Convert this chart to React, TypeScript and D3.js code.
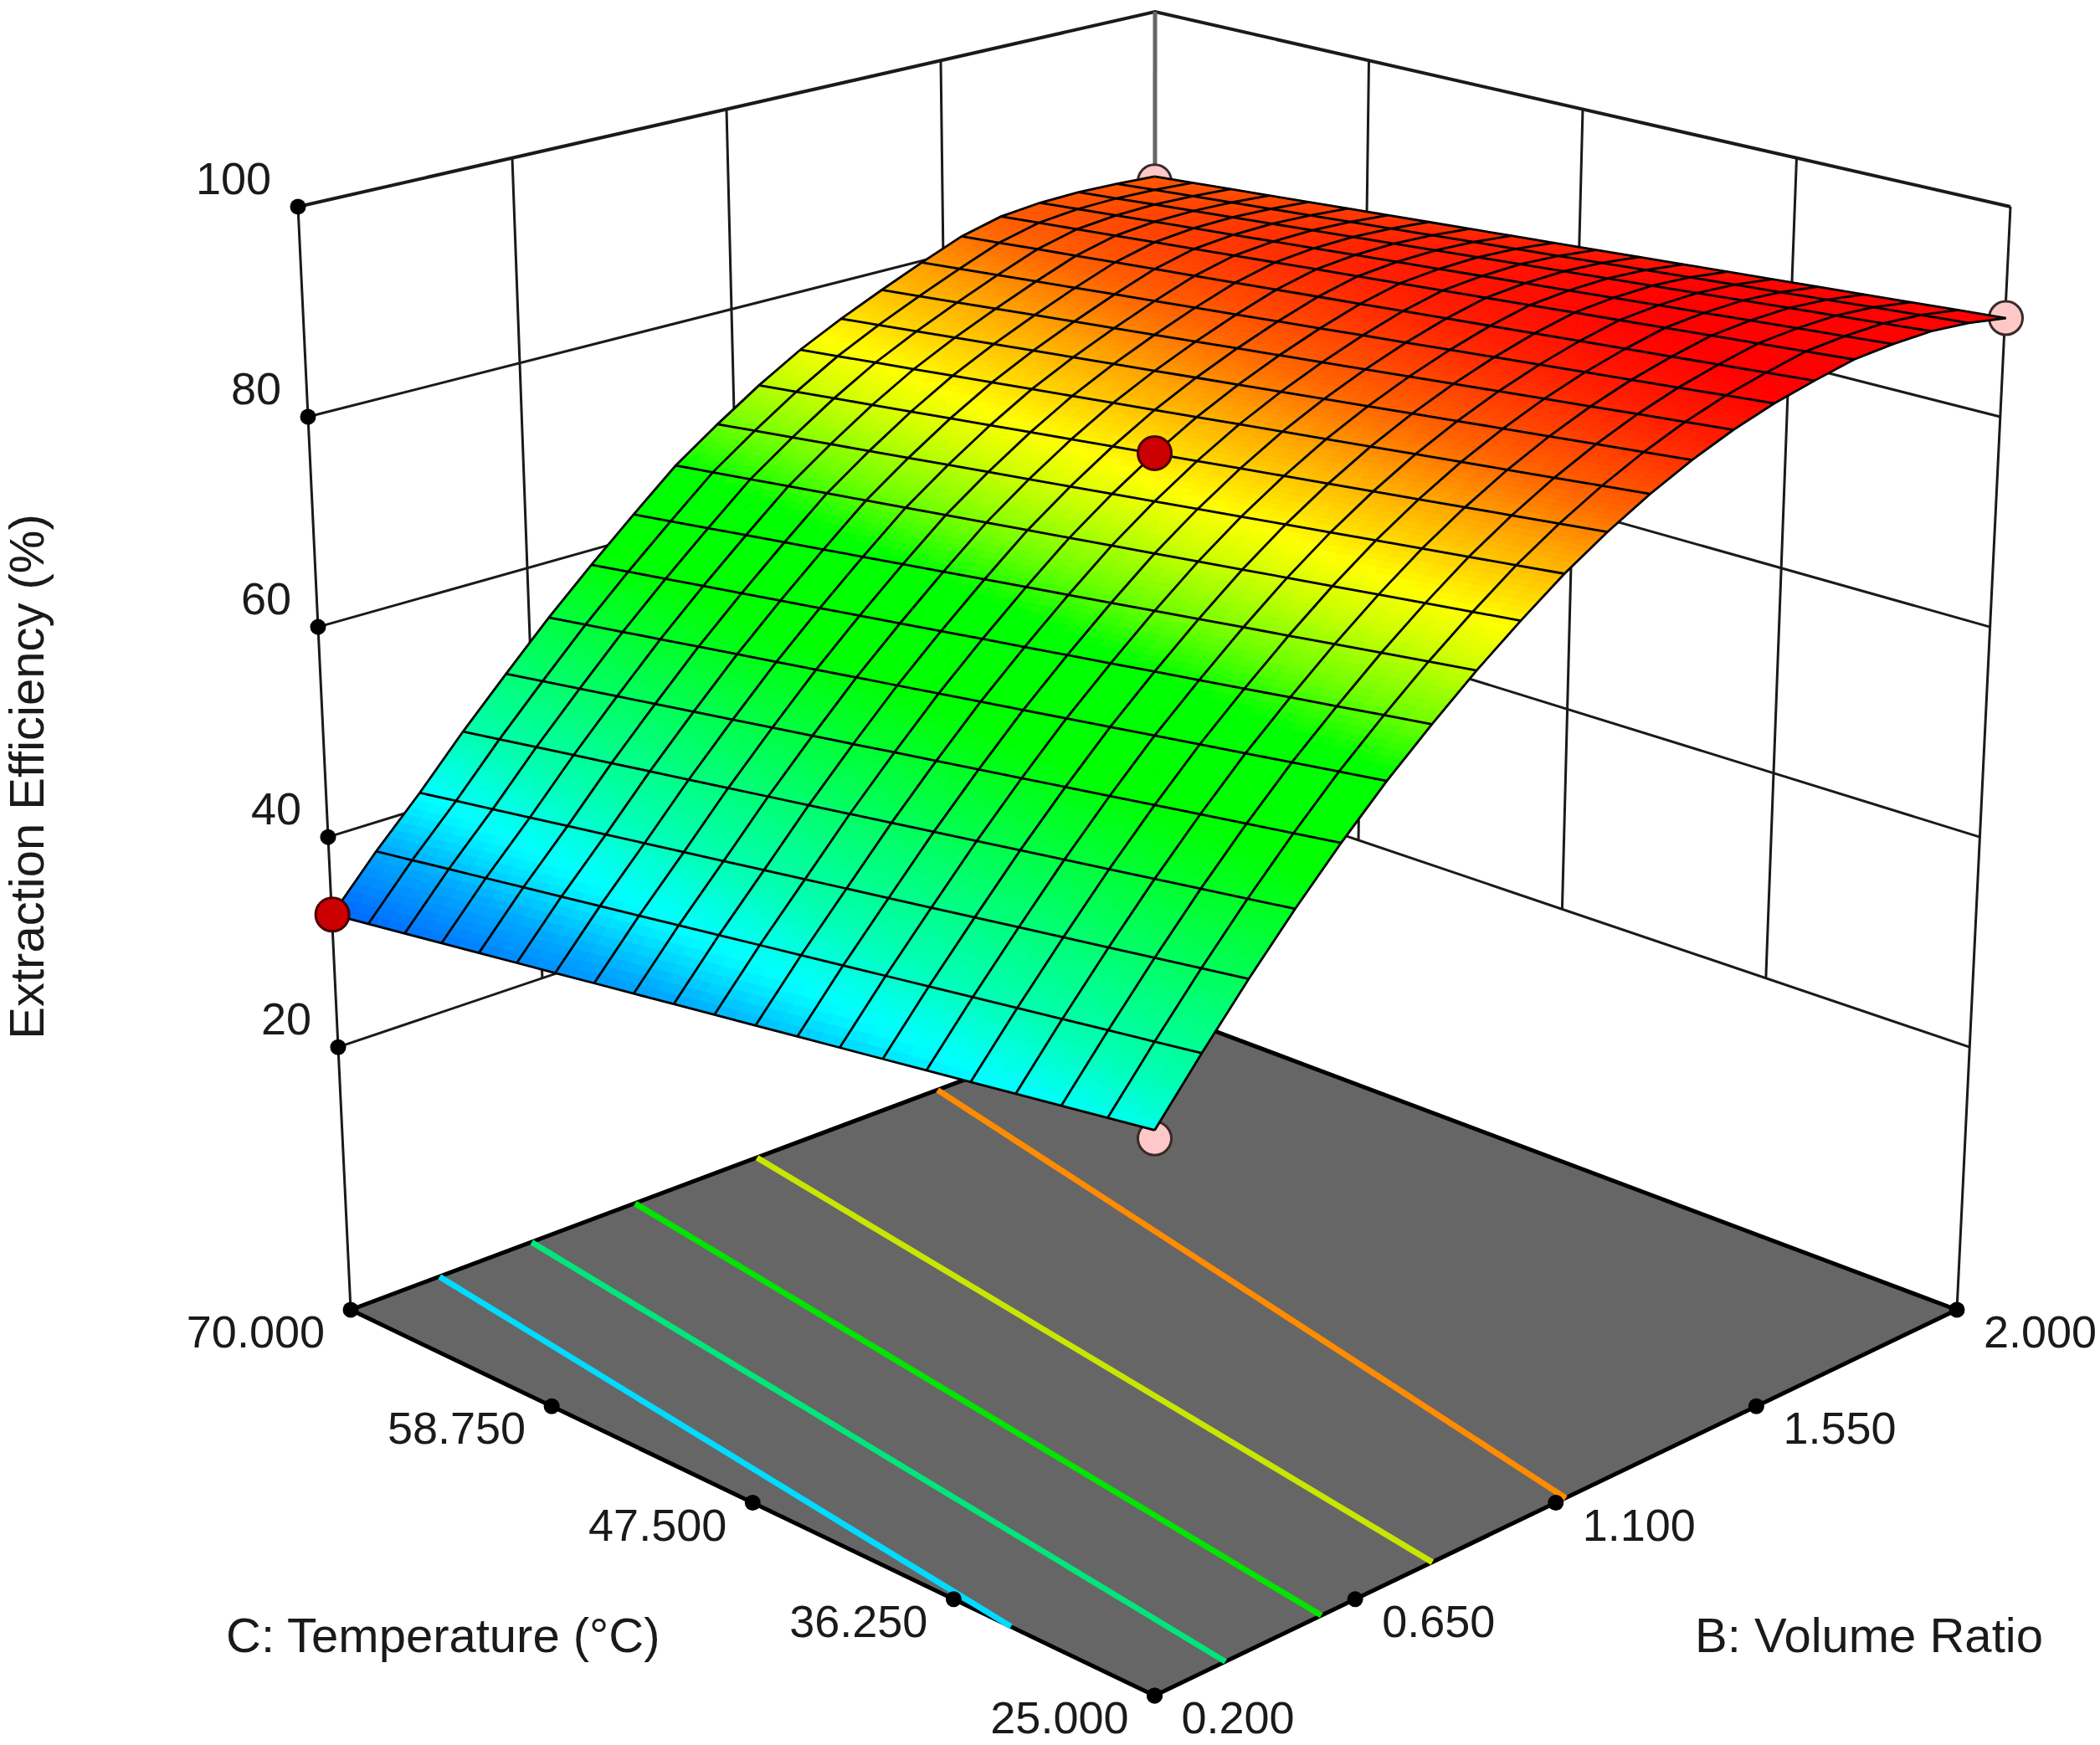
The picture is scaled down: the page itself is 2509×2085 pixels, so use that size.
import React from "react";
import * as d3 from "d3";

// ---- data ----
const bTicks = [0.2, 0.65, 1.1, 1.55, 2.0];
const cTicks = [25, 36.25, 47.5, 58.75, 70];
const zTicks = [20, 40, 60, 80, 100];
const zWallBottom = -5;
const zTop = 100;

// response along B (21 mesh columns, B = 0.2 .. 2.0) at both temperature edges
const zAtC25 = [44.8, 49.8, 54.6, 59.1, 63.3, 67.2, 70.7, 74.0, 77.0, 79.8, 82.2, 84.3, 86.1, 87.6, 88.8, 89.7, 90.5, 90.8, 90.9, 90.6, 90.0];
const zAtC70 = [34.2, 38.9, 43.2, 47.8, 52.1, 56.3, 60.2, 63.9, 67.5, 70.4, 73.1, 75.5, 77.5, 79.3, 81.0, 82.6, 83.6, 84.0, 84.1, 84.0, 83.8];

const contourLevels = [43.1, 52.5, 62.2, 71.8, 81.2];
const contourColors = ["#00DCFF", "#00E67A", "#00E600", "#C8E600", "#FF8C00"];

const designPoints = [
  { b: 2.0, c: 70, z: 83.3, kind: "below", layer: "back" },
  { b: 0.2, c: 25, z: 44.1, kind: "below", layer: "back" },
  { b: 2.0, c: 25, z: 90.0, kind: "below", layer: "back" },
  { b: 0.2, c: 70, z: 34.2, kind: "above", layer: "front" },
  { b: 1.1, c: 47.5, z: 77.7, kind: "above", layer: "front" },
];

const rampZ = [31.75, 34.2, 39.2, 42.6, 43.2, 44.8, 47.5, 52.75, 58, 61.2, 67.5, 70.6, 74.3, 76.4, 80.6, 83.2, 86.9, 89];
const rampColors = ["#0050FF", "#0064FF", "#00AAFF", "#00F5FF", "#00FFFF", "#00FFE6", "#00FFB4", "#00FF6E", "#00FF28", "#00FF00", "#00FF00", "#6EFF00", "#D2FF00", "#FFFF00", "#FFA500", "#FF6400", "#FF1E00", "#FF0000"];

// ---- layout of the box ----
const W = 2509, H = 2085;
const cx = 1379.5;
const floorF: [number, number] = [1379.5, 2026];
const floorL: [number, number] = [419, 1565];
const floorR: [number, number] = [2338, 1565];
const floorB: [number, number] = [1379.5, 1205];
const topL: [number, number] = [356, 247];
const topR: [number, number] = [2402, 247];
const topB: [number, number] = [1380, 14];

// perspective camera used by the surface, floor contours
const persp = { A: 1094.1, g: 0.1403, h: -0.0713, y0: 2026, E: -241.4, F: -1520.6 };

const uScale = d3.scaleLinear().domain([0.2, 2.0]).range([0, 1]);
const vScale = d3.scaleLinear().domain([25, 70]).range([0, 1]);
const wScale = d3.scaleLinear().domain([zWallBottom, zTop]).range([0, 1]);
const colorScale = d3.scaleLinear<string>().domain(rampZ).range(rampColors).clamp(true);

function project(u: number, v: number, z: number): [number, number] {
  const w = wScale(z);
  const s = u + v;
  const D = 1 + persp.g * s + persp.h * w;
  return [cx + (persp.A * (u - v)) / D, (persp.y0 + persp.E * s + persp.F * w) / D];
}

const lerp = (a: [number, number], b: [number, number], t: number): [number, number] => [
  a[0] + (b[0] - a[0]) * t,
  a[1] + (b[1] - a[1]) * t,
];
// box corners at a height (axes of the box are evenly spaced on screen)
const cornerL = (z: number) => lerp(floorL, topL, wScale(z));
const cornerR = (z: number) => lerp(floorR, topR, wScale(z));
const cornerB = (z: number) => lerp(floorB, topB, wScale(z));

const N = zAtC25.length - 1;
const surfZ = (fi: number, fj: number) => {
  const i0 = Math.min(Math.floor(fi), N - 1);
  const t = fi - i0;
  const a = zAtC25[i0] + (zAtC25[i0 + 1] - zAtC25[i0]) * t;
  const b = zAtC70[i0] + (zAtC70[i0 + 1] - zAtC70[i0]) * t;
  return a + (b - a) * (fj / N);
};
const surfPt = (fi: number, fj: number) => project(fi / N, fj / N, surfZ(fi, fj));

const line = d3.line<[number, number]>().x((d) => d[0]).y((d) => d[1]);
const SUB_U = 8;
const SUB_V = 2;
const FONT = "'Liberation Sans', Arial, sans-serif";
const FS = 54;
const FS_TITLE = 58;

function buildFacets() {
  const out: { d: string; fill: string; key: string }[] = [];
  const cells: [number, number][] = [];
  for (let i = 0; i < N; i++) for (let j = 0; j < N; j++) cells.push([i, j]);
  cells.sort((a, b) => b[0] + b[1] - (a[0] + a[1]));
  for (const [i, j] of cells) {
    for (let a = SUB_U - 1; a >= 0; a--) {
      for (let b = SUB_V - 1; b >= 0; b--) {
        const i0 = i + a / SUB_U, i1 = i + (a + 1) / SUB_U;
        const j0 = j + b / SUB_V, j1 = j + (b + 1) / SUB_V;
        const poly = [surfPt(i0, j0), surfPt(i1, j0), surfPt(i1, j1), surfPt(i0, j1)];
        out.push({
          key: `${i}-${j}-${a}-${b}`,
          d: line(poly) + "Z",
          fill: colorScale(surfZ((i0 + i1) / 2, (j0 + j1) / 2)),
        });
      }
    }
  }
  return out;
}

// where a level crosses the floor: walk from the back row towards the front; the picture's lines are straight, so join the two ends
function contourPath(level: number) {
  const pts: [number, number][] = [];
  const step = 0.25;
  for (let j = N; j >= 0; j -= step) {
    const atStart = surfZ(0, j);
    if (atStart > level) {
      const prev = j + step;
      const a = surfZ(0, prev);
      const fj = prev + (-step * (level - a)) / (atStart - a);
      pts.push(project(0, fj / N, zWallBottom));
      break;
    }
    for (let i = 0; i < N; i++) {
      const a = surfZ(i, j), b = surfZ(i + 1, j);
      if (a <= level && b > level) {
        pts.push(project((i + (level - a) / (b - a)) / N, j / N, zWallBottom));
        break;
      }
    }
  }
  return line([pts[0], pts[pts.length - 1]]) ?? "";
}

export default function App() {
  const facets = buildFacets();
  const rowsLines = d3.range(0, N + 1).map((j) => line(d3.range(0, N + 1).map((i) => surfPt(i, j))) ?? "");
  const colLines = d3.range(0, N + 1).map((i) => line(d3.range(0, N + 1).map((j) => surfPt(i, j))) ?? "");
  const wallLevels = zTicks;
  const wallFractions = [0.25, 0.5, 0.75];
  const gridBottom = d3.min(zTicks) as number;
  const gridStroke = { stroke: "#1a1a1a", strokeWidth: 3, fill: "none" };

  const marker = (p: (typeof designPoints)[number]) => {
    const [x, y] = project(uScale(p.b), vScale(p.c), p.z);
    return (
      <circle
        key={`${p.b}-${p.c}`}
        cx={x}
        cy={y}
        r={20}
        fill={p.kind === "above" ? "#CC0000" : "#FFC8C8"}
        stroke={p.kind === "above" ? "#4a0000" : "#3a2a2a"}
        strokeWidth={3}
      />
    );
  };

  return (
    <svg width={W} height={H} viewBox={`0 0 ${W} ${H}`} style={{ position: "absolute", left: 0, top: 0, background: "#fff" }} fontFamily={FONT} fontSize={FS} fill="#1a1a1a">
      {/* walls */}
      {wallLevels.map((z) => {
        const [l, b, r] = [cornerL(z), cornerB(z), cornerR(z)];
        return <path key={`h${z}`} d={line([l, b, r]) ?? ""} {...gridStroke} strokeWidth={z === zTop ? 4 : 3} />;
      })}
      {wallFractions.map((t) => (
        <g key={`v${t}`}>
          <path d={line([lerp(cornerL(zTop), cornerB(zTop), t), lerp(cornerL(gridBottom), cornerB(gridBottom), t)]) ?? ""} {...gridStroke} />
          <path d={line([lerp(cornerB(zTop), cornerR(zTop), t), lerp(cornerB(gridBottom), cornerR(gridBottom), t)]) ?? ""} {...gridStroke} />
        </g>
      ))}
      <path d={line([topB, floorB]) ?? ""} stroke="#666" strokeWidth={5} fill="none" />
      <path d={line([topL, floorL]) ?? ""} {...gridStroke} />
      <path d={line([topR, floorR]) ?? ""} {...gridStroke} />

      {/* floor */}
      <path d={(line([floorF, floorR, floorB, floorL]) ?? "") + "Z"} fill="#666666" stroke="#000" strokeWidth={5} strokeLinejoin="round" />
      {contourLevels.map((lv, i) => (
        <path key={lv} d={contourPath(lv)} fill="none" stroke={contourColors[i]} strokeWidth={7} />
      ))}

      {/* axis dots + labels */}
      {cTicks.map((c) => {
        const [x, y] = lerp(floorF, floorL, vScale(c));
        return (
          <g key={`c${c}`}>
            <circle cx={x} cy={y} r={9.5} fill="#000" />
            <text x={x - 31} y={y + 45} textAnchor="end">{c.toFixed(3)}</text>
          </g>
        );
      })}
      {bTicks.map((b) => {
        const [x, y] = lerp(floorF, floorR, uScale(b));
        return (
          <g key={`b${b}`}>
            <circle cx={x} cy={y} r={9.5} fill="#000" />
            <text x={x + 32} y={y + 45}>{b.toFixed(3)}</text>
          </g>
        );
      })}
      {zTicks.map((z) => {
        const [x, y] = cornerL(z);
        return (
          <g key={`z${z}`}>
            <circle cx={x} cy={y} r={9.5} fill="#000" />
            <text x={x - 32} y={y - 15} textAnchor="end">{z}</text>
          </g>
        );
      })}
      <text transform="translate(52,928) rotate(-90)" textAnchor="middle" fontSize={FS_TITLE}>Extraction Efficiency (%)</text>
      <text x={270} y={1974} fontSize={FS_TITLE}>C: Temperature (°C)</text>
      <text x={2025} y={1974} fontSize={FS_TITLE}>B: Volume Ratio</text>

      {/* markers under the surface */}
      {designPoints.filter((p) => p.layer === "back").map(marker)}

      {/* surface */}
      <g>
        {facets.map((f) => (
          <path key={f.key} d={f.d} fill={f.fill} stroke={f.fill} strokeWidth={0.8} />
        ))}
      </g>
      <g fill="none" stroke="#000" strokeWidth={2.8}>
        {rowsLines.map((d, i) => <path key={`r${i}`} d={d} />)}
        {colLines.map((d, i) => <path key={`k${i}`} d={d} />)}
      </g>

      {/* markers above the surface */}
      {designPoints.filter((p) => p.layer === "front").map(marker)}
    </svg>
  );
}
